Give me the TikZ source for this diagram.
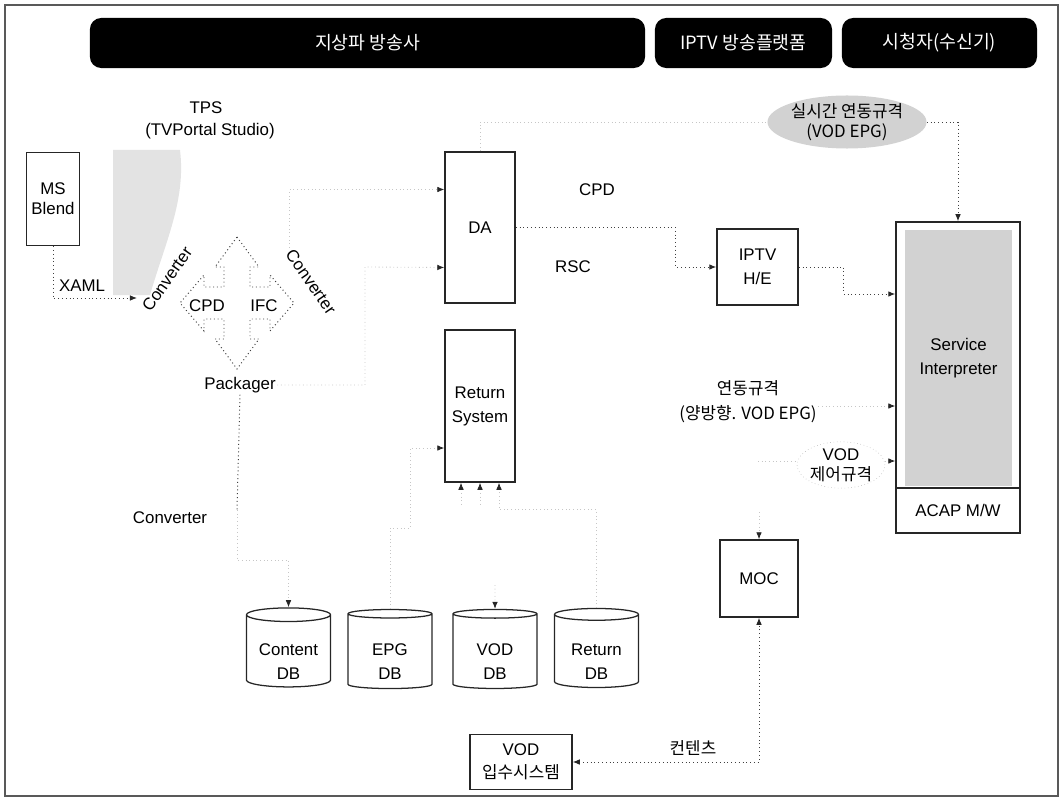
\documentclass[tikz,border=0pt]{standalone}
\usepackage{fontspec}
\setmainfont{Liberation Sans}
\newfontfamily\kr{Noto Sans CJK KR}
\usetikzlibrary{arrows.meta,positioning,shapes.geometric,calc}

\newcommand\lab{\fontsize{12}{14}\selectfont}

\tikzset{
  hdr/.style={fill=black, text=white, rounded corners=8pt, minimum height=1.25cm, inner sep=0pt, font=\kr\fontsize{13}{15}\selectfont},
  box/.style={draw=black!85, line width=1pt, align=center, inner sep=2pt, font=\lab},
  lbl/.style={align=center, inner sep=1pt, font=\lab},
  db/.style={cylinder, shape border rotate=90, aspect=0.22, draw=black!85, line width=0.9pt, minimum width=2.1cm, minimum height=1.975cm, align=center, inner sep=1pt, font=\lab},
  link/.style={dotted, black!75, line width=0.7pt},
  faint/.style={dotted, gray!45, line width=0.6pt},
}

\begin{document}
\begin{tikzpicture}[x=0.025cm, y=-0.025cm, >={Latex[length=5pt,width=4pt,color=black!85]}]
    \useasboundingbox (0,0) rectangle (1063,800);
    \draw[black!65, line width=0.9pt] (5,5) rectangle (1058,796);

    % header bars
    \node[hdr, minimum width=13.875cm] (hdrA) at (367.5,43) {지상파 방송사};
    \node[hdr, minimum width=4.425cm] (hdrB) at (743.5,43) {IPTV 방송플랫폼};
    \node[hdr, minimum width=4.875cm] (hdrC) at (939.5,43) {시청자(수신기)};

    % TPS
    \fill[gray!22] (113,150) -- (180,150) .. controls (186,200) and (166,240) .. (150,295) -- (113,295) -- cycle;
    \node[lbl] (tps) at (206,108) {TPS};
    \node[lbl] (tpsname) at (210,131) {(TVPortal Studio)};
    \node[box, minimum width=1.325cm, minimum height=2.325cm] (msblend) at (53,199) {MS\\Blend};

    \coordinate (pkc) at (237,303);
    \draw[link, shift={(pkc)}] (0,-66) -- (22,-36) -- (13,-36) -- (13,-16) -- (33,-16) -- (33,-28) -- (57,0)
      -- (33,28) -- (33,16) -- (13,16) -- (13,36) -- (22,36) -- (0,66) -- (-22,36) -- (-13,36) -- (-13,16)
      -- (-33,16) -- (-33,28) -- (-57,0) -- (-33,-28) -- (-33,-16) -- (-13,-16) -- (-13,-36) -- (-22,-36) -- cycle;
    \node[lbl] (cpdin) at (207,306) {CPD};
    \node[lbl] (ifc) at (264,306) {IFC};
    \node[lbl, rotate=55, inner sep=0pt] (convL) at (167,279) {Converter};
    \node[lbl, rotate=-55, inner sep=0pt] (convR) at (311,282) {Converter};
    \node[lbl] (pack) at (240,385) {Packager};
    \node[lbl] (convB) at (170,518) {Converter};

    \coordinate (xamlEnd) at (137,298);
    \draw[link, ->] (msblend.south) |- (xamlEnd);
    \node[lbl] (xaml) at (82,286) {XAML};

    % broadcaster side
    \node[box, minimum width=1.75cm, minimum height=3.775cm] (da) at (480,227.5) {DA};
    \node[box, minimum width=1.75cm, minimum height=3.8cm] (rs) at (480,406) {Return\\[3pt]System};
    \node[lbl] (cpd) at (597,190) {CPD};
    \node[lbl] (rsc) at (573,267) {RSC};

    \node[db] (contentdb) at (288.5,652) {\rule{0pt}{22pt}Content\\[3pt]DB};
    \node[db] (epgdb) at (390,652) {\rule{0pt}{22pt}EPG\\[3pt]DB};
    \node[db] (voddb) at (495,652) {\rule{0pt}{22pt}VOD\\[3pt]DB};
    \node[db] (retdb) at (596.5,652) {\rule{0pt}{22pt}Return\\[3pt]DB};
    \node[box, minimum width=2.55cm, minimum height=1.375cm, font=\kr\lab] (ingest) at (521,762) {{\rmfamily VOD}\\[2pt]입수시스템};

    % platform and receiver
    \node[box, minimum width=2.025cm, minimum height=1.9cm] (iptv) at (757.5,267) {IPTV\\[3pt]H/E};
    \node[box, minimum width=1.95cm, minimum height=1.925cm] (moc) at (759,578.5) {MOC};
    \node[lbl, font=\kr\lab] (contents) at (693,748) {컨텐츠};

    \node[box, minimum width=3.1cm, minimum height=7.775cm] (si) at (958,377.5) {};
    \node[fill=gray!35, minimum width=2.675cm, minimum height=6.4cm, align=center, font=\lab] (siin) at (958.5,358) {Service\\[3pt]Interpreter};
    \node[box, minimum width=3.1cm, minimum height=1.125cm] (acap) at (958,510.5) {ACAP M/W};

    \node[ellipse, fill=gray!35, minimum width=3.425cm, minimum height=1.325cm, align=center, inner sep=0pt, font=\kr\lab] (rtspec) at (847,122) {실시간 연동규격\\(VOD EPG)};
    \node[lbl, font=\kr\lab] (ifspec) at (748,402) {연동규격\\[4pt](양방향. VOD EPG)};
    \node[ellipse, draw=gray!60, dotted, minimum width=2.075cm, minimum height=1cm, align=center, inner sep=0pt, font=\kr\lab] (vodctl) at (841,465) {{\rmfamily VOD}\\제어규격};

    % ports
    \path (si.west) ++(0,-83.5) coordinate (siIn1);
    \path (si.west) ++(0,28.5) coordinate (siIn2);
    \path (si.west) ++(0,83.5) coordinate (siIn3);
    \path (da.west) ++(0,-38) coordinate (daIn1);
    \path (da.west) ++(0,40) coordinate (daIn2);
    \path (rs.west) ++(0,42) coordinate (rsIn);
    \path (rs.south) ++(-19,0) coordinate (rsBot1);
    \path (rs.south) ++(19,0) coordinate (rsBot3);
    \coordinate (pkBend) at (365,267);
    \coordinate (pkDown) at (237,510);
    \coordinate (epgBend) at (410,528);
    \coordinate (vodSrc) at (758,461);
    \coordinate (mocSrc) at (759,512);
    \coordinate (vodDbSrc) at (495,585);

    % connectors
    \draw[faint, ->] (convR.west) |- (daIn1);
    \draw[faint, ->] (pack.east) -| (pkBend) -- (daIn2);
    \draw[link] (pack.south) -- (pkDown);
    \draw[faint, ->] (pkDown) -- ++(0,50) -| (contentdb.north);
    \draw[link, ->] (da.east) -- ++(160,0) |- (iptv.west);
    \draw[link, ->] (iptv.east) -- ++(45,0) |- (siIn1);
    \draw[faint] (da.north) |- (rtspec.west);
    \draw[link, ->] (rtspec.east) -| (si.north);
    \draw[faint, ->] (ifspec.east |- siIn2) -- (siIn2);
    \draw[faint] (vodSrc) -- (vodctl.west |- vodSrc);
    \draw[faint, ->] (vodctl.east |- siIn3) -- (siIn3);
    \draw[faint, ->] (epgdb.north) |- (epgBend) |- (rsIn);
    \draw[faint, ->] (retdb.north) -- ++(0,-98) -| (rsBot3);
    \draw[faint, <-] (rsBot1) -- ++(0,22);
    \draw[faint, <-] (rs.south) -- ++(0,22);
    \draw[faint, ->] (vodDbSrc) -- (voddb.north);
    \draw[faint, ->] (mocSrc) -- (moc.north);
    \draw[link, <->] (ingest.east) -| (moc.south);
\end{tikzpicture}
\end{document}
